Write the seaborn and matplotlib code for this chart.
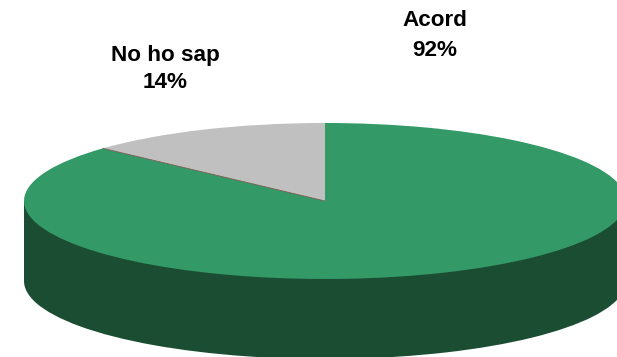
import numpy as np
import matplotlib
matplotlib.use("Agg")
import matplotlib.pyplot as plt
from matplotlib.patches import Rectangle
import seaborn as sns

categories = ["No ho sap", "Acord"]
values = [14, 92]
top_colors = ["#C0C0C0", "#339966"]
side_color = "#1B4D33"

sns.set_theme(style="white")
plt.rcParams["font.family"] = ["Liberation Sans", "DejaVu Sans"]

W, H = 617, 357
cx, cy, rx, ry, depth = 325, 201, 301, 78, 80

fig = plt.figure(figsize=(W / 100, H / 100), dpi=100, facecolor="white")
ax = fig.add_axes([0, 0, 1, 1])

no_edge = {"edgecolor": "none", "linewidth": 0}

# side of the disc: lower disc plus a band up to the top disc
d = depth / ry
ax.pie(values, colors=[side_color, side_color], startangle=90, center=(0, -d),
       radius=1, wedgeprops=no_edge)
ax.add_patch(Rectangle((-1, -d), 2, d, facecolor=side_color, edgecolor="none", linewidth=0))
wedges, _ = ax.pie(values, colors=sns.color_palette(top_colors), startangle=90,
                   radius=1, wedgeprops=no_edge)
for w in wedges:
    w.set_zorder(5)

# thin brownish seam between the two slices
theta = np.deg2rad(wedges[0].theta2)
ax.plot([0, np.cos(theta)], [0, np.sin(theta)], color="#7A5A50", lw=0.6, zorder=6)

ax.set_aspect("auto")
ax.set_xlim(-cx / rx, (W - cx) / rx)
ax.set_ylim((cy - H) / ry, cy / ry)
ax.axis("off")

def label(text, x, y):
    fig.text(x / W, 1 - y / H, text, ha="center", va="center",
             fontsize=16.2, fontweight="bold", color="black")

label(categories[0], 165, 55)
label(f"{values[0]}%", 165, 82)
label(categories[1], 435, 20.5)
label(f"{values[1]}%", 435, 51)

fig.savefig("out.png", dpi=100)
